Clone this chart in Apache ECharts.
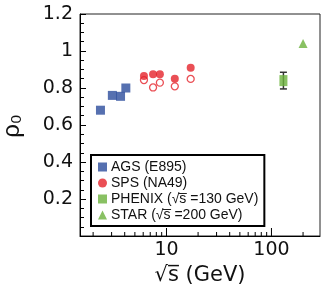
<!DOCTYPE html>
<html><head><meta charset="utf-8">
<script src="https://cdn.jsdelivr.net/npm/echarts@6/dist/echarts.min.js"></script>
<style>html,body{margin:0;padding:0;background:#fff}#c{width:322px;height:289px}</style>
</head><body><div id="c"></div>
<script>
const agsX = [2.35, 3.05, 3.65, 4.1];
const agsY = [0.68, 0.76, 0.755, 0.80];
const spsX = [6.1, 7.45, 8.65, 12.0, 17.0];
const spsFilledY = [0.865, 0.875, 0.875, 0.85, 0.91];
const spsOpenY = [0.843, 0.803, 0.829, 0.809, 0.849];
const phenixX = [130];
const phenixY = [0.84];
const phenixErr = [0.045];
const starX = [200];
const starY = [1.04];
const xMinorTicks = [2,3,4,5,6,7,8,9,20,30,40,50,60,70,80,90,200];
const xMajorTicks = [10, 100];
const yTickLabels = ['0.2','0.4','0.6','0.8','1','1.2'];

const FONT = "'Liberation Sans', Arial, Helvetica, sans-serif";
const WFONT = "'DejaVu Sans', 'Liberation Sans', sans-serif";
const BLUE = '#2c4c9c', RED = '#e5232b', GREEN = '#6bb23c';

const zip = (xs, ys) => xs.map((x, i) => [x, ys[i]]);
const chart = echarts.init(document.getElementById('c'), null, {renderer: 'canvas'});

function tickSeries(name, vals, len) {
  return {
    name: name, type: 'custom', silent: true, z: 2,
    data: vals.map(v => [v, 0.0]),
    renderItem: (params, api) => {
      const p = api.coord([api.value(0), api.value(1)]);
      return {type: 'line', shape: {x1: p[0], y1: p[1], x2: p[0], y2: p[1] - len},
        style: {stroke: '#000', lineWidth: 1}};
    }
  };
}

chart.setOption({
  animation: false,
  grid: {left: 80, right: 2, top: 14, bottom: 53, containLabel: false, outerBoundsMode: 'none',
    show: true, borderColor: '#222', borderWidth: 1},
  xAxis: {
    type: 'log', logBase: 10, min: 1.5, max: 290,
    axisLine: {lineStyle: {color: '#000'}},
    axisTick: {show: false}, splitLine: {show: false},
    axisLabel: {fontFamily: WFONT, fontSize: 19, color: '#111', margin: 5,
      formatter: v => (Math.abs(v - 10) < 1e-6 || Math.abs(v - 100) < 1e-6) ? String(Math.round(v)) : '',
      showMinLabel: false, showMaxLabel: false},
    name: '√s\u0305 (GeV)', nameLocation: 'middle', nameGap: 25,
    nameTextStyle: {fontFamily: WFONT, fontSize: 21, color: '#111'}
  },
  yAxis: {
    type: 'value', min: 0, max: 1.2, interval: 0.2,
    axisLine: {show: true, lineStyle: {color: '#000'}},
    axisTick: {inside: true, length: 6, lineStyle: {color: '#000'}},
    minorTick: {show: true, splitNumber: 4, length: 4, lineStyle: {color: '#000'}},
    splitLine: {show: false},
    axisLabel: {fontFamily: WFONT, fontSize: 19, color: '#111', margin: 7,
      formatter: v => { const s = yTickLabels.find(t => Math.abs(parseFloat(t) - v) < 1e-6); return s || ''; }}
  },
  graphic: [
    {type: 'text', x: 12, y: 126, rotation: Math.PI / 2,
      style: {text: 'ρ₀', font: '24px ' + FONT, fill: '#111', textAlign: 'center', textVerticalAlign: 'middle'}}
  ],
  legend: {
    orient: 'vertical', left: 91, top: 155, width: 176, z: 10,
    padding: [5, 6, 4, 7], itemGap: 2, itemWidth: 9, itemHeight: 9,
    borderColor: '#000', borderWidth: 2, backgroundColor: '#fff',
    data: ['AGS (E895)', 'SPS (NA49)', 'PHENIX (√s =130 GeV)', 'STAR (√s =200 GeV)'],
    formatter: n => n.replace('√s', '√s\u0305'),
    textStyle: {fontFamily: FONT, fontSize: 14, color: '#111', padding: [0, 0, 0, -1]},
    selectedMode: false
  },
  series: [
    tickSeries('xminor', xMinorTicks, 4),
    tickSeries('xmajor', xMajorTicks, 8),
    {name: 'AGS (E895)', type: 'scatter', symbol: 'rect', symbolSize: 9, z: 3,
      itemStyle: {color: BLUE}, data: zip(agsX, agsY)},
    {name: 'SPS open', type: 'scatter', symbol: 'circle', symbolSize: 7, z: 3,
      itemStyle: {color: '#fff', borderColor: RED, borderWidth: 1.3}, data: zip(spsX, spsOpenY)},
    {name: 'SPS (NA49)', type: 'scatter', symbol: 'circle', symbolSize: 8, z: 4,
      itemStyle: {color: RED}, data: zip(spsX, spsFilledY)},
    {name: 'PHENIX err', type: 'custom', z: 3, silent: true,
      data: phenixX.map((x, i) => [x, phenixY[i] - phenixErr[i], phenixY[i] + phenixErr[i]]),
      renderItem: (params, api) => {
        const lo = api.coord([api.value(0), api.value(1)]);
        const hi = api.coord([api.value(0), api.value(2)]);
        const w = 3.5;
        return {type: 'group', children: [
          {type: 'line', shape: {x1: lo[0], y1: lo[1], x2: hi[0], y2: hi[1]}, style: {stroke: '#333', lineWidth: 1.5}},
          {type: 'line', shape: {x1: lo[0]-w, y1: lo[1], x2: lo[0]+w, y2: lo[1]}, style: {stroke: '#333', lineWidth: 1.5}},
          {type: 'line', shape: {x1: hi[0]-w, y1: hi[1], x2: hi[0]+w, y2: hi[1]}, style: {stroke: '#333', lineWidth: 1.5}}
        ]};
      }},
    {name: 'PHENIX (√s =130 GeV)', type: 'scatter', symbol: 'rect', symbolSize: [8, 11], z: 4,
      itemStyle: {color: GREEN}, data: zip(phenixX, phenixY)},
    {name: 'STAR (√s =200 GeV)', type: 'scatter', symbol: 'triangle', symbolSize: 9, z: 4,
      itemStyle: {color: GREEN}, data: zip(starX, starY)}
  ]
});
</script>
</body></html>
